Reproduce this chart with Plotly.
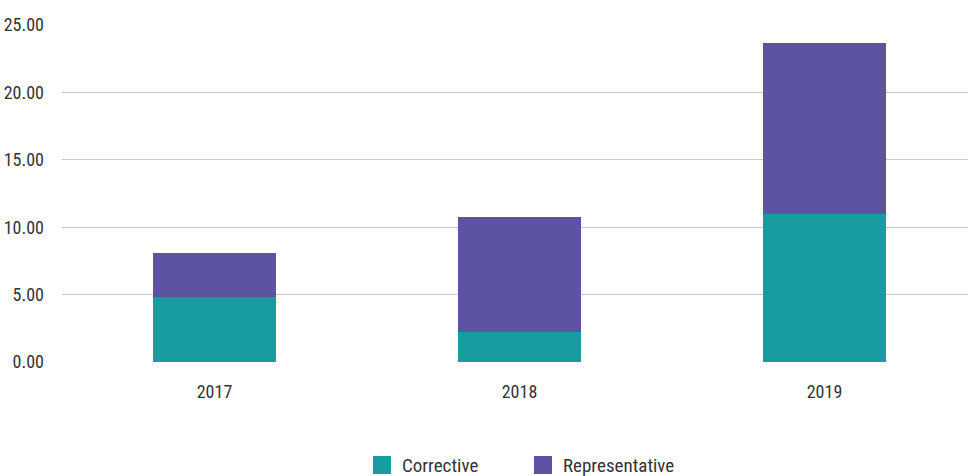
import plotly.graph_objects as go

years = ["2017", "2018", "2019"]
corrective = [4.82, 2.23, 10.98]
representative = [3.27, 8.53, 12.68]

series = [("Corrective", corrective, "#179c9f"),
          ("Representative", representative, "#5c54a2")]

FONT = "Roboto Condensed, Fira Sans Condensed, sans-serif"
TEXT = "#333333"

W, H = 968, 476
L, R, T, B = 62, 0, 25, 114

fig = go.Figure()
for name, vals, color in series:
    fig.add_trace(go.Bar(name=name, x=years, y=vals, width=0.403,
                         marker=dict(color=color, line=dict(width=0))))

# Legend drawn below the plot: coloured squares with labels
def px_x(p):
    return (p - L) / (W - L - R)

def px_y(q):
    return (H - B - q) / (H - T - B)

legend_items = [(373, series[0]), (534, series[1])]
for left, (name, _, color) in legend_items:
    fig.add_shape(type="rect", xref="paper", yref="paper",
                  x0=px_x(left), x1=px_x(left + 18), y0=px_y(474), y1=px_y(456),
                  fillcolor=color, line=dict(width=0))
    fig.add_annotation(xref="paper", yref="paper", x=px_x(left + 27), y=px_y(465),
                       xanchor="left", yanchor="middle", showarrow=False, text=name,
                       font=dict(family=FONT, size=19, color=TEXT))

fig.update_layout(
    barmode="stack",
    width=W, height=H,
    margin=dict(l=L, r=R, t=T, b=B),
    paper_bgcolor="white", plot_bgcolor="white",
    font=dict(family=FONT, size=18, color=TEXT),
    showlegend=False,
    xaxis=dict(type="category", range=[-0.5, 2.4705], showgrid=False, showline=False,
               ticks="", ticklabelstandoff=17, tickfont=dict(size=18), automargin=False),
    yaxis=dict(range=[0, 25], tickvals=[0, 5, 10, 15, 20, 25], tickformat=".2f",
               showgrid=True, gridcolor="#c8c8c8", gridwidth=1.3, zeroline=False,
               showline=False, ticks="", ticklabelstandoff=17, tickfont=dict(size=18),
               automargin=False),
)

fig.write_html("out.html")
